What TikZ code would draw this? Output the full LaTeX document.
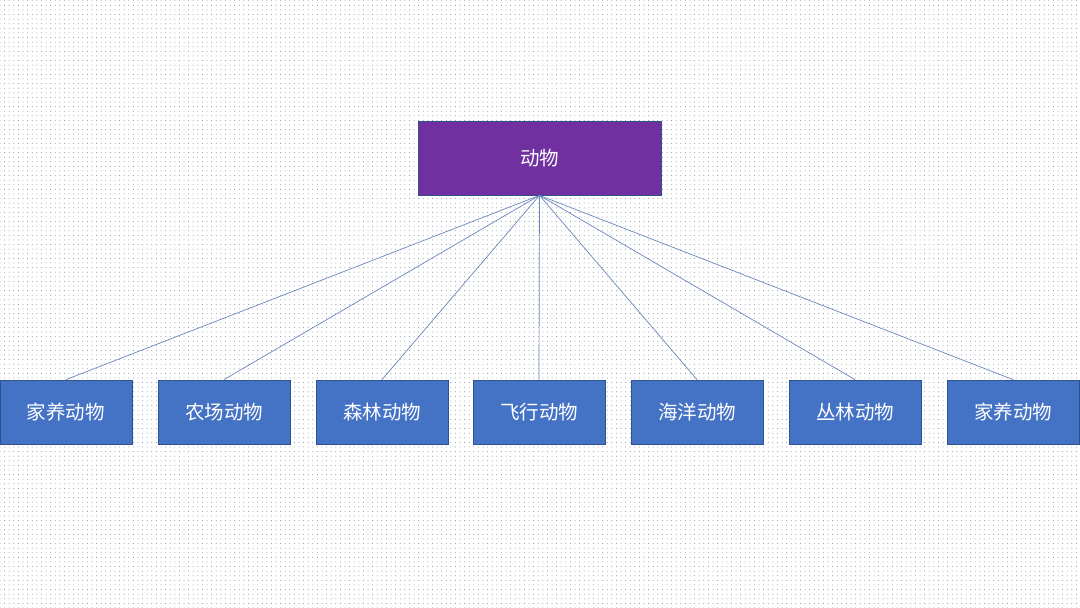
\documentclass[tikz,border=0pt]{standalone}
\usepackage{fontspec}
\newfontfamily\cjk{Noto Sans CJK SC}
\usetikzlibrary{patterns.meta}
\definecolor{topfill}{HTML}{7030A0}
\definecolor{boxfill}{HTML}{4472C4}
\definecolor{boxline}{HTML}{2F528F}
\definecolor{linkcol}{HTML}{6A87BA}
\definecolor{dotcol}{HTML}{7F8B9C}
\tikzset{
  rootbox/.style={draw=boxline, line width=0.8pt, fill=topfill, minimum width=243pt, minimum height=74pt, inner sep=0pt, text=white, font=\cjk\fontsize{19.5}{22}\selectfont},
  leafbox/.style={draw=boxline, line width=0.8pt, fill=boxfill, minimum width=132pt, minimum height=64pt, inner sep=0pt, text=white, font=\cjk\fontsize{19.5}{22}\selectfont},
  link/.style={draw=linkcol, line width=0.7pt}
}
\begin{document}
\begin{tikzpicture}[x=1pt,y=1pt]
\fill[white] (0,0) rectangle (1080,608);
\fill[pattern={Dots[distance=4.6pt, radius=0.5pt]}, pattern color=dotcol] (0,0) rectangle (1080,608);
\useasboundingbox (0,0) rectangle (1080,608);
\node[rootbox] (root) at (539.5,450) {动物};
\node[leafbox] (a) at (66,196) {家养动物};
\node[leafbox] (b) at (224,196) {农场动物};
\node[leafbox] (c) at (382,196) {森林动物};
\node[leafbox] (d) at (539,196) {飞行动物};
\node[leafbox] (e) at (697,196) {海洋动物};
\node[leafbox] (f) at (855,196) {丛林动物};
\node[leafbox] (g) at (1013,196) {家养动物};
\foreach \n in {a,b,c,d,e,f,g}
  \draw[link] (root.south) -- (\n.north);
\end{tikzpicture}
\end{document}
